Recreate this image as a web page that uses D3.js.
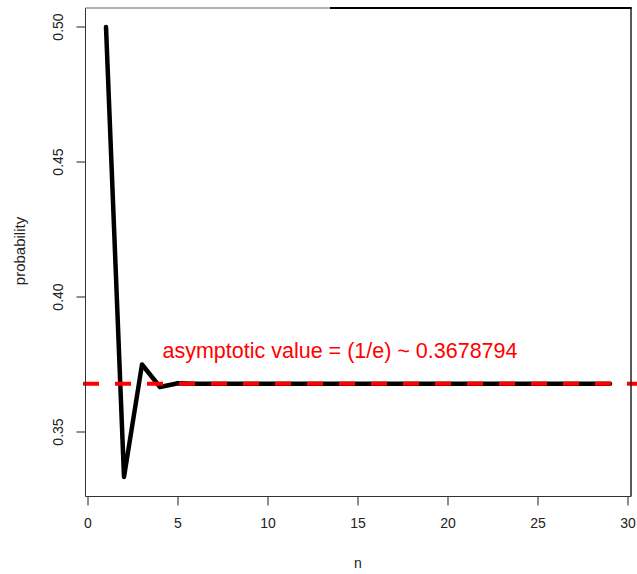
<!DOCTYPE html>
<html><head><meta charset="utf-8">
<script src="https://cdn.jsdelivr.net/npm/d3@7"></script>
<style>body{margin:0;background:#fff;} text{font-family:"Liberation Sans",Arial,sans-serif;}</style>
</head><body>
<svg id="c" width="637" height="574"></svg>
<script>
// data: probability of a derangement, index 1..29 (n = 2..30)
const xs = [1,2,3,4,5,6,7,8,9,10,11,12,13,14,15,16,17,18,19,20,21,22,23,24,25,26,27,28,29];
const probs = [0.5,0.3333333,0.375,0.3666667,0.3680556,0.3678571,0.3678819,0.3678792,0.3678795,
  0.3678794,0.3678794,0.3678794,0.3678794,0.3678794,0.3678794,0.3678794,0.3678794,0.3678794,0.3678794,
  0.3678794,0.3678794,0.3678794,0.3678794,0.3678794,0.3678794,0.3678794,0.3678794,0.3678794,0.3678794];
const asymptote = 0.3678794;
const xTicks = [0,5,10,15,20,25,30];
const yTicks = [0.35,0.40,0.45,0.50];
const annotation = "asymptotic value = (1/e) ~ 0.3678794";
const xLabel = "n", yLabel = "probability";

const svg = d3.select("#c");
const x = d3.scaleLinear().domain([0,30]).range([88,628]);
const y = d3.scaleLinear().domain([0.35,0.50]).range([432,27]);
const box = {l:85.5, r:631, t:8, b:496.5};

// asymptote line + data line
const line = d3.line().x((d,i)=>x(xs[i])).y(d=>y(d));
svg.append("path").datum(probs).attr("d",line).attr("fill","none")
  .attr("stroke","#000").attr("stroke-width",4.5).attr("stroke-linejoin","round").attr("stroke-linecap","round");
svg.append("line").attr("x1",83).attr("x2",660).attr("y1",y(asymptote)).attr("y2",y(asymptote))
  .attr("stroke","#ff0000").attr("stroke-width",4).attr("stroke-dasharray","16,16");

// box
svg.append("line").attr("x1",box.l).attr("x2",box.l).attr("y1",box.t).attr("y2",box.b).attr("stroke","#333").attr("stroke-width",1);
svg.append("line").attr("x1",box.l).attr("x2",box.r).attr("y1",box.b).attr("y2",box.b).attr("stroke","#333").attr("stroke-width",1.2);
svg.append("line").attr("x1",box.r).attr("x2",box.r).attr("y1",box.t).attr("y2",box.b).attr("stroke","#222").attr("stroke-width",1.5);
svg.append("line").attr("x1",box.l).attr("x2",330).attr("y1",box.t).attr("y2",box.t).attr("stroke","#999").attr("stroke-width",1.5);
svg.append("line").attr("x1",330).attr("x2",box.r+0.75).attr("y1",box.t).attr("y2",box.t).attr("stroke","#000").attr("stroke-width",2);

// x axis
const gx = svg.append("g");
gx.selectAll("line").data(xTicks).join("line")
  .attr("x1",d=>x(d)).attr("x2",d=>x(d)).attr("y1",box.b).attr("y2",box.b+9).attr("stroke","#444").attr("stroke-width",1.2);
gx.append("line").attr("x1",x(0)).attr("x2",x(30)).attr("y1",box.b).attr("y2",box.b).attr("stroke","#333");
gx.selectAll("text").data(xTicks).join("text")
  .attr("x",d=>x(d)).attr("y",528).attr("text-anchor","middle").attr("font-size",14).attr("fill","#222").text(d=>d);

// y axis
const gy = svg.append("g");
gy.selectAll("line").data(yTicks).join("line")
  .attr("x1",box.l-9).attr("x2",box.l).attr("y1",d=>y(d)).attr("y2",d=>y(d)).attr("stroke","#444").attr("stroke-width",1.2);
gy.selectAll("text").data(yTicks).join("text")
  .attr("transform",d=>`translate(63,${y(d)}) rotate(-90)`).attr("text-anchor","middle")
  .attr("font-size",14).attr("fill","#222").text(d=>d3.format(".2f")(d));

// titles
svg.append("text").attr("x",x(15)).attr("y",568).attr("text-anchor","middle").attr("font-size",14).attr("fill","#222").text(xLabel);
svg.append("text").attr("transform",`translate(25,251) rotate(-90)`).attr("text-anchor","middle").attr("font-size",15).attr("fill","#222").text(yLabel);

// annotation
svg.append("text").attr("x",x(14)).attr("y",y(0.38)+7).attr("text-anchor","middle").attr("font-size",21.5)
  .attr("fill","#ff0000").text(annotation);
</script>
</body></html>
